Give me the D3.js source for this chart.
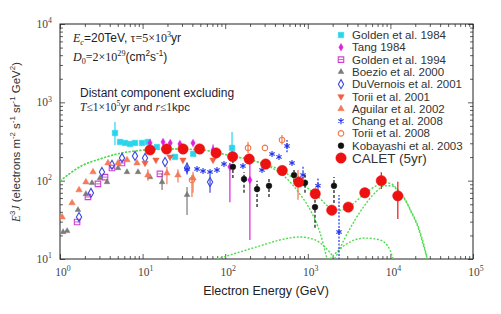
<!DOCTYPE html>
<html>
<head>
<meta charset="utf-8">
<script src="https://cdn.jsdelivr.net/npm/d3@7"></script>
<style>
body { margin: 0; background: #fff; }
text { font-family: "Liberation Sans", Arial, sans-serif; }
</style>
</head>
<body>
<svg id="chart" width="501" height="314"></svg>
<script>
// ----------------- DATA -----------------
// points are [energy GeV, E^3 J, error low, error high]
var xTicks = [1, 10, 100, 1000, 1e4, 1e5];
var yTicks = [10, 100, 1000, 1e4];

var golden84 = [[4.63, 406, 286, 562], [5.33, 312], [6.12, 303], [7.04, 294], [8.09, 303], [9.84, 303],
    [11.6, 312], [14.9, 269], [24.7, 201], [41, 220], [121, 262, 184, 419]];
var tang84 = [[12.3, 303], [17.7, 312], [21.6, 303], [28.3, 294], [40.8, 303], [71.3, 247, 210, 290],
    [114, 150, 53, 168], [199, 102, 17.5, 184]];
var golden94 = [[1.61, 29.7], [2.18, 62], [2.88, 91], [3.51, 111], [4.26, 145], [5.63, 168], [16.2, 122]];
var boezio = [[1.09, 22.1], [1.22, 22.8], [1.65, 42.3], [2.06, 67.6], [2.44, 93.5], [3.05, 108], [3.71, 96],
    [5.04, 145], [6.47, 129], [8.8, 129], [12.3, 111], [17.2, 96, 76, 125], [34.5, 66, 36.5, 83]];
var duvernois = [[1.7, 34.3], [2.37, 69.7], [3.22, 129], [4.26, 159], [5.63, 195], [8.09, 207], [10.7, 195],
    [18.7, 173], [34.5, 145, 120, 170], [65.5, 96, 70, 118]];
var torii01 = [[10.7, 168], [14.5, 184], [21.5, 201], [30.8, 184], [71.2, 184]];
var aguilar = [[1.06, 34.3], [1.4, 51.9], [1.7, 76], [2.06, 96], [2.51, 129], [3.81, 168], [5.04, 168],
    [6.47, 184], [8.55, 168], [11.6, 118, 100, 140], [19.7, 125, 90, 150], [26.8, 118, 95, 140], [40.8, 108, 70, 130]];
var chang = [[34.5, 141], [45.6, 141], [53.9, 133], [65.5, 129], [79.5, 137], [96.7, 163], [164, 154],
    [279, 137], [369, 219], [448, 201], [560, 277, 230, 330], [644, 168], [875, 118, 85, 150],
    [1328, 86, 60, 110], [2387, 22.1, 8, 65.6]];
var torii08 = [[39.6, 102, 62, 118], [189, 262, 226, 312], [303, 262], [487, 331, 290, 384], [761, 94, 57, 137]];
var kobayashi = [[124, 150, 108, 201], [169, 105, 70, 129], [243, 78, 46, 100], [339, 86, 62, 108],
    [681, 118, 96, 137], [925, 94, 70, 125], [1222, 46, 25, 70], [2075, 86, 52, 111]];
var calet = [[12.3, 247], [19.5, 254], [30.9, 254], [49, 254], [77.6, 226], [123, 203], [195, 189], [309, 163],
    [490, 135], [776, 96], [1230, 68], [1950, 42], [3090, 46], [4900, 70, 62, 80], [7760, 100, 78, 128],
    [12300, 64, 32.5, 97]];

// model curves (green dotted)
var totalModel = [[1, 99], [1.9, 158], [3.05, 189], [4.9, 219], [10, 245], [20, 254], [50, 248], [80, 228],
    [124, 205], [195, 187], [309, 162], [490, 133], [776, 97], [1230, 68], [1950, 44], [2500, 42], [3090, 46],
    [4900, 68], [7000, 88], [8700, 94], [10500, 90], [12300, 76], [15000, 58], [18000, 40], [22000, 25],
    [25500, 15], [28000, 10]];
var distantModel = [[1, 99], [1.9, 158], [3.05, 189], [4.9, 219], [10, 245], [20, 254], [50, 248], [80, 228],
    [124, 205], [195, 186], [309, 158], [490, 120], [805, 67], [1100, 40], [1400, 22], [1708, 10]];
var broadHump = [[79.5, 10], [151, 12.3], [264, 14.7], [461, 17.5], [805, 19.1], [1222, 17.5], [1615, 14.2], [2133, 10]];
var velaModel = [[2133, 10], [2818, 18.5], [3725, 31.5], [4925, 49], [6510, 70], [8610, 86], [10450, 86],
    [12360, 74], [15000, 57], [18000, 39], [22000, 24], [25500, 14], [28000, 10]];
var smallHump = [[1858, 10], [2818, 15.1], [4925, 18.5], [7480, 17.5], [9890, 13], [10740, 10]];

// ----------------- SETUP -----------------
var svg = d3.select('#chart');
var x = d3.scaleLog().domain([1, 1e5]).range([60, 473]);
var y = d3.scaleLog().domain([10, 1e4]).range([259, 24]);

var asterisk = d3.symbolAsterisk || d3.symbolCross;

var series = [
    {name: 'Golden et al. 1984', data: golden84, type: d3.symbolSquare, size: 30, fill: '#2ad4ec', stroke: '#2ad4ec'},
    {name: 'Tang 1984', data: tang84, type: d3.symbolDiamond, size: 16, fill: '#e020e0', stroke: '#e020e0'},
    {name: 'Golden et al. 1994', data: golden94, type: d3.symbolSquare, size: 30, fill: 'none', stroke: '#d040d0', midline: true},
    {name: 'Boezio et al. 2000', data: boezio, type: d3.symbolTriangle, size: 14, fill: '#7a7a7a', stroke: '#7a7a7a'},
    {name: 'DuVernois et al. 2001', data: duvernois, type: d3.symbolDiamond, size: 24, fill: 'none', stroke: '#3b48e0'},
    {name: 'Torii et al. 2001', data: torii01, type: d3.symbolTriangle, rotate: 180, size: 18, fill: '#f06040', stroke: '#f06040'},
    {name: 'Aguilar et al. 2002', data: aguilar, type: d3.symbolTriangle, size: 18, fill: '#f47a5a', stroke: '#f47a5a'},
    {name: 'Chang et al. 2008', data: chang, type: asterisk, size: 26, fill: 'none', stroke: '#2433f0', dash: '2,1.5'},
    {name: 'Torii et al. 2008', data: torii08, type: d3.symbolCircle, size: 24, fill: 'none', stroke: '#f07848'},
    {name: 'Kobayashi et al. 2003', data: kobayashi, type: d3.symbolCircle, size: 26, fill: '#111', stroke: '#111', dash: '3,2'},
    {name: 'CALET (5yr)', data: calet, type: d3.symbolCircle, size: 85, fill: '#ee1111', stroke: '#ee1111'}
];

svg.append('clipPath').attr('id', 'plotClip')
    .append('rect').attr('x', 60).attr('y', 24).attr('width', 413).attr('height', 235);

// ----------------- AXES -----------------
var xMinor = [], yMinor = [];
xTicks.slice(0, -1).forEach(function(d) { for (var k = 2; k < 10; k++) xMinor.push(d * k); });
yTicks.slice(0, -1).forEach(function(d) { for (var k = 2; k < 10; k++) yMinor.push(d * k); });

function addTicks(axisFn, scale, transform, values, size) {
    svg.append('g').attr('transform', transform)
        .call(axisFn(scale).tickValues(values).tickSize(size).tickFormat(''))
        .call(function(g) { g.select('.domain').remove(); })
        .selectAll('line').attr('stroke', '#333').attr('stroke-width', 0.8);
}
addTicks(d3.axisBottom, x, 'translate(0,259)', xTicks, -5);
addTicks(d3.axisBottom, x, 'translate(0,259)', xMinor, -3);
addTicks(d3.axisTop, x, 'translate(0,24)', xTicks, -5);
addTicks(d3.axisTop, x, 'translate(0,24)', xMinor, -3);
addTicks(d3.axisLeft, y, 'translate(60,0)', yTicks, -5);
addTicks(d3.axisLeft, y, 'translate(60,0)', yMinor, -3);
addTicks(d3.axisRight, y, 'translate(473,0)', yTicks, -5);
addTicks(d3.axisRight, y, 'translate(473,0)', yMinor, -3);

svg.append('rect').attr('x', 60).attr('y', 24).attr('width', 413).attr('height', 235)
    .attr('fill', 'none').attr('stroke', '#222').attr('stroke-width', 1);

// mixed text: parts with sup / sub / italic / serif
function richText(sel, parts, size) {
    var shift = 0;
    parts.forEach(function(p) {
        var ts = sel.append('tspan').text(p.t);
        var target = p.sup ? -size * 0.42 : (p.sub ? size * 0.28 : 0);
        if (target !== shift) ts.attr('dy', target - shift);
        shift = target;
        if (p.sup || p.sub) ts.attr('font-size', size * 0.68);
        if (p.i) ts.attr('font-style', 'italic');
        if (p.serif) ts.style('font-family', '"Liberation Serif", "Times New Roman", serif');
    });
    return sel;
}

function expLabel(v) {
    return [{t: '10', serif: true}, {t: String(Math.round(Math.log10(v))), sup: true, serif: true}];
}

xTicks.forEach(function(v) {
    richText(svg.append('text').attr('x', x(v) + 3).attr('y', 276).attr('text-anchor', 'middle')
        .attr('font-size', 11.5).attr('fill', '#444'), expLabel(v), 11.5);
});
yTicks.forEach(function(v) {
    richText(svg.append('text').attr('x', 52).attr('y', y(v) + 4).attr('text-anchor', 'end')
        .attr('font-size', 11.5).attr('fill', '#444'), expLabel(v), 11.5);
});

svg.append('text').attr('x', 266).attr('y', 295).attr('text-anchor', 'middle')
    .attr('font-size', 12.5).attr('fill', '#222').text('Electron Energy (GeV)');

richText(svg.append('text').attr('transform', 'translate(20,142) rotate(-90)').attr('text-anchor', 'middle')
    .attr('font-size', 11.5).attr('fill', '#333'),
    [{t: 'E', i: true, serif: true}, {t: '3', sup: true}, {t: 'J', i: true, serif: true}, {t: ' (electrons m'},
     {t: '-2', sup: true}, {t: ' s'}, {t: '-1', sup: true}, {t: ' sr'}, {t: '-1', sup: true}, {t: ' GeV'},
     {t: '2', sup: true}, {t: ')'}], 11.5);

// ----------------- ANNOTATIONS -----------------
richText(svg.append('text').attr('x', 73).attr('y', 42).attr('font-size', 12).attr('fill', '#222'),
    [{t: 'E', i: true, serif: true}, {t: 'c', sub: true, i: true, serif: true}, {t: '=20TeV, '},
     {t: 'τ', serif: true}, {t: '=5×10', serif: true}, {t: '3', sup: true, serif: true}, {t: 'yr'}], 12);
richText(svg.append('text').attr('x', 73).attr('y', 61).attr('font-size', 12).attr('fill', '#222'),
    [{t: 'D', i: true, serif: true}, {t: '0', sub: true, serif: true}, {t: '=2×10', serif: true},
     {t: '29', sup: true, serif: true}, {t: '(cm'}, {t: '2', sup: true}, {t: 's'}, {t: '-1', sup: true}, {t: ')'}], 12);
svg.append('text').attr('x', 80).attr('y', 97).attr('font-size', 12).attr('fill', '#1c1c3a')
    .text('Distant component excluding');
richText(svg.append('text').attr('x', 80).attr('y', 111).attr('font-size', 11.5).attr('fill', '#1c1c3a'),
    [{t: 'T', i: true, serif: true}, {t: '≤1×10', serif: true}, {t: '5', sup: true, serif: true},
     {t: 'yr and '}, {t: 'r', i: true, serif: true}, {t: '≤1', serif: true}, {t: 'kpc'}], 11.5);

// ----------------- MODEL CURVES -----------------
var plot = svg.append('g').attr('clip-path', 'url(#plotClip)');
var line = d3.line().x(function(d) { return x(d[0]); }).y(function(d) { return y(d[1]); })
    .curve(d3.curveMonotoneX);
[totalModel, distantModel, broadHump, velaModel, smallHump].forEach(function(c) {
    plot.append('path').attr('d', line(c)).attr('fill', 'none')
        .attr('stroke', '#4fdc4f').attr('stroke-width', 1.4).attr('stroke-dasharray', '2,1.6');
});

// ----------------- DATA POINTS -----------------
function marker(g, s, px, py) {
    var m = g.append('path').attr('d', d3.symbol().type(s.type).size(s.size)())
        .attr('transform', 'translate(' + px + ',' + py + ')' + (s.rotate ? ' rotate(' + s.rotate + ')' : ''))
        .attr('fill', s.fill).attr('stroke', s.stroke).attr('stroke-width', s.fill === 'none' ? 1.1 : 0.5);
    if (s.midline) {
        g.append('line').attr('x1', px - 2.5).attr('x2', px + 2.5).attr('y1', py).attr('y2', py)
            .attr('stroke', s.stroke).attr('stroke-width', 0.9);
    }
    return m;
}

series.forEach(function(s) {
    var g = plot.append('g');
    s.data.forEach(function(d) {
        if (d.length > 2) {
            g.append('line').attr('x1', x(d[0])).attr('x2', x(d[0]))
                .attr('y1', y(d[2])).attr('y2', y(d[3]))
                .attr('stroke', s.stroke).attr('stroke-width', 1.2)
                .attr('stroke-dasharray', s.dash || null);
        }
    });
    s.data.forEach(function(d) { marker(g, s, x(d[0]), y(d[1])); });
});

// ----------------- LEGEND -----------------
var legend = svg.append('g');
series.forEach(function(s, i) {
    var ly = 35 + i * 12.3;
    var big = s.name.indexOf('CALET') === 0;
    marker(legend, s, 341, ly);
    legend.append('text').attr('x', 352).attr('y', ly + (big ? 5 : 4)).attr('font-size', big ? 13.5 : 11.5)
        .attr('fill', '#333').text(s.name);
});
</script>
</body>
</html>
